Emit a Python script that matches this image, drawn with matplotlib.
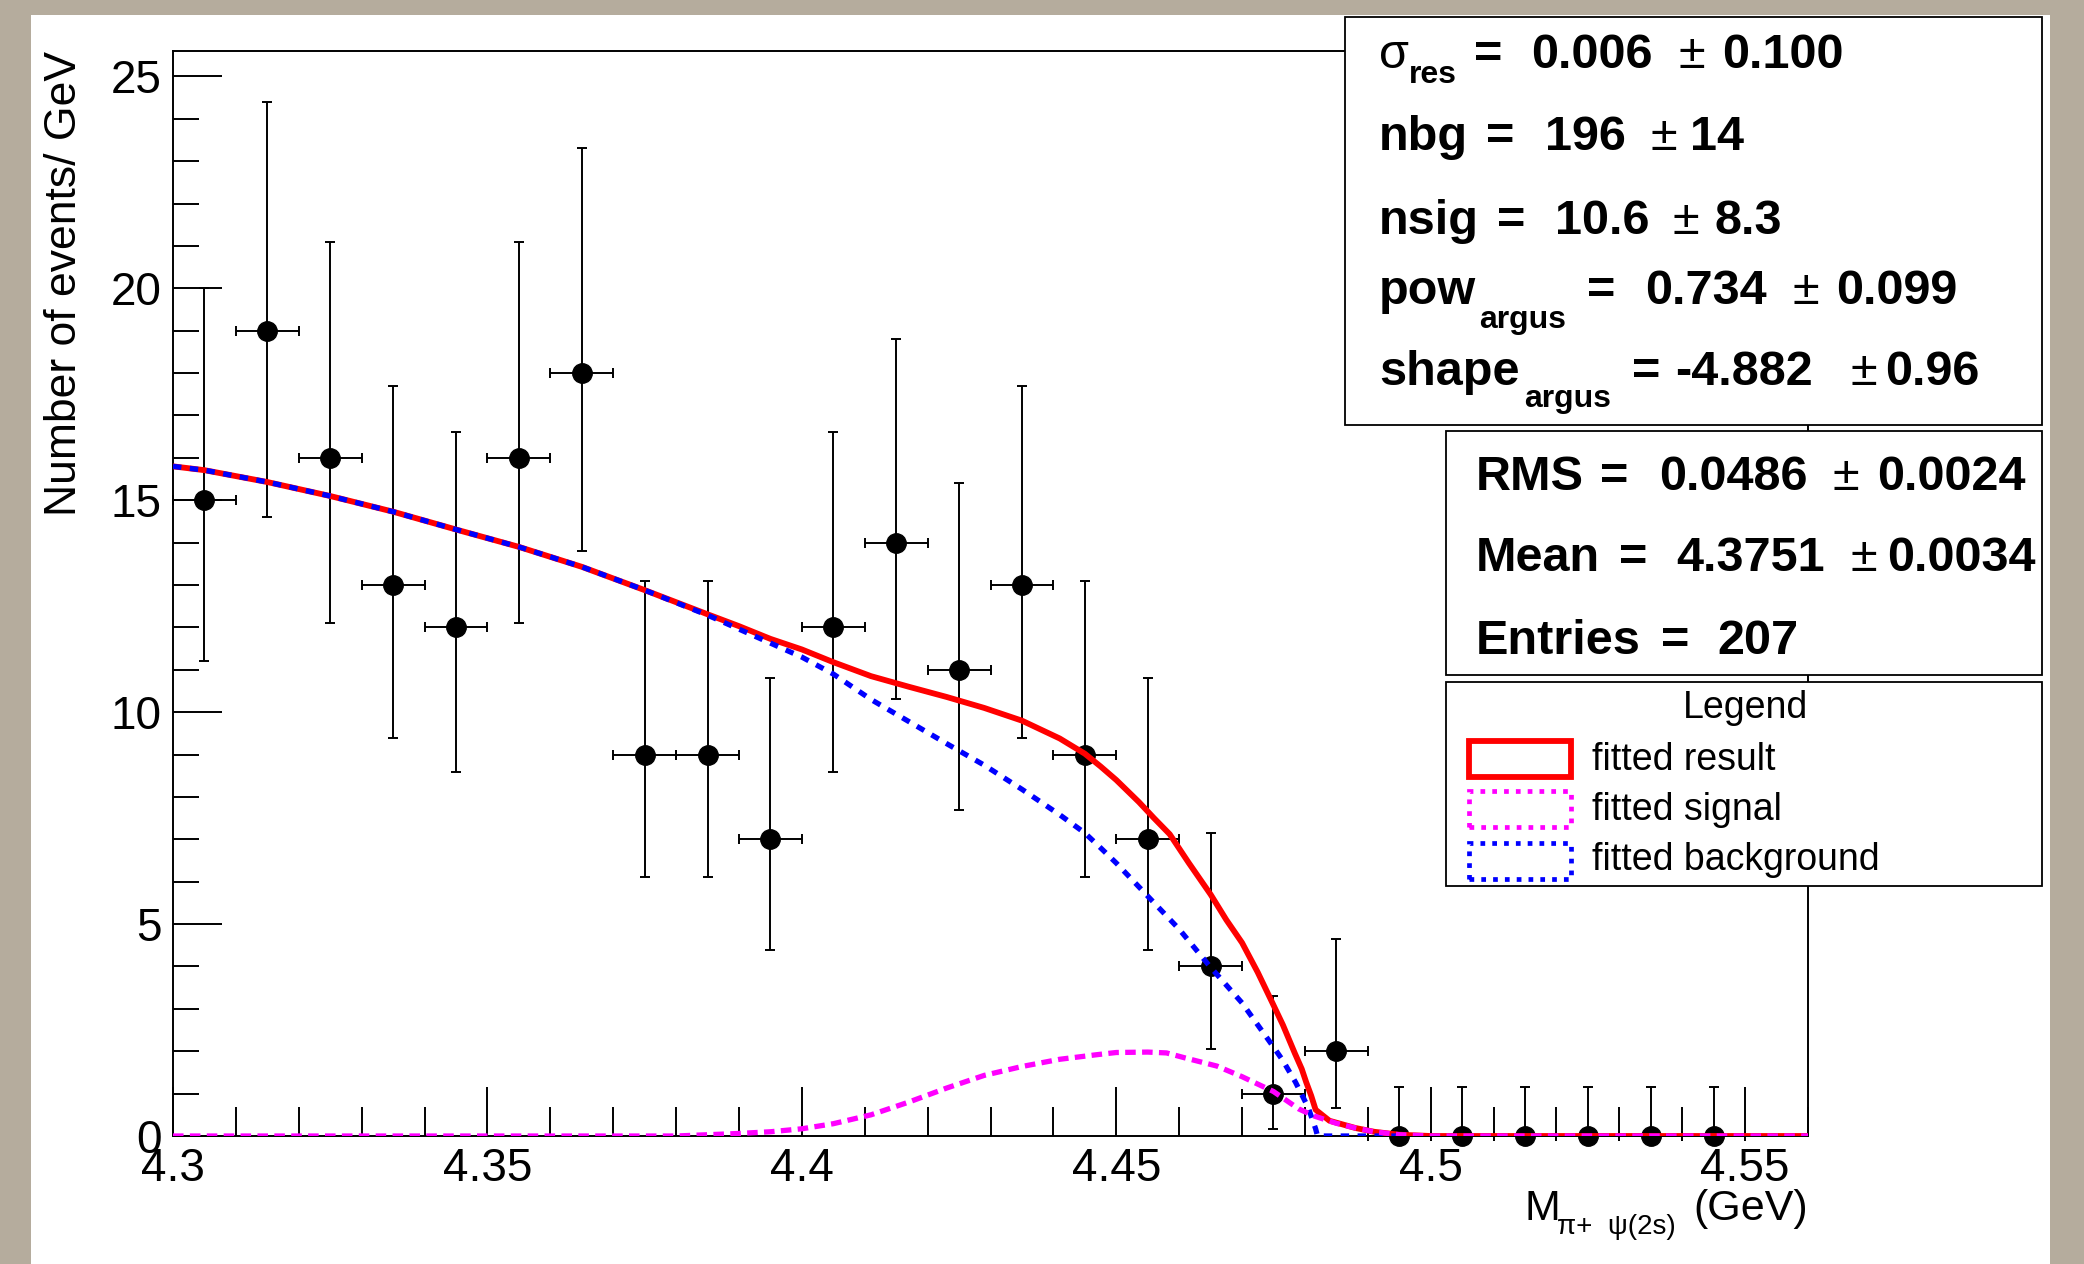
import matplotlib
matplotlib.use("Agg")
import matplotlib.pyplot as plt
from matplotlib.patches import Rectangle
from matplotlib.ticker import MultipleLocator, FuncFormatter

plt.rcParams['font.family'] = ['Liberation Sans', 'DejaVu Sans']

W, H = 2084, 1264

# ---- binned data (bin width 0.01 GeV) ----
bin_centers = [4.305, 4.315, 4.325, 4.335, 4.345, 4.355, 4.365, 4.375, 4.385,
               4.395, 4.405, 4.415, 4.425, 4.435, 4.445, 4.455, 4.465, 4.475,
               4.485, 4.495, 4.505, 4.515, 4.525, 4.535, 4.545]
counts = [15, 19, 16, 13, 12, 16, 18, 9, 9, 7, 12, 14, 11, 13, 9, 7, 4, 1, 2,
          0, 0, 0, 0, 0, 0]
err_low = [3.8, 4.4, 3.9, 3.6, 3.4, 3.9, 4.2, 2.9, 2.9, 2.6, 3.4, 3.7, 3.3,
           3.6, 2.9, 2.6, 1.95, 0.83, 1.35, 0, 0, 0, 0, 0, 0]
err_high = [5.0, 5.4, 5.1, 4.7, 4.6, 5.1, 5.3, 4.1, 4.1, 3.8, 4.6, 4.8, 4.4,
            4.7, 4.1, 3.8, 3.15, 2.3, 2.64, 1.15, 1.15, 1.15, 1.15, 1.15, 1.15]
half_bin = 0.005

# ---- fitted curves ----
bkg_x = [4.300, 4.305, 4.315, 4.325, 4.335, 4.345, 4.355, 4.365, 4.375, 4.385,
         4.395, 4.400, 4.405, 4.411, 4.417, 4.423, 4.429, 4.435, 4.441, 4.445,
         4.4475, 4.450, 4.4525, 4.455, 4.4575, 4.460, 4.4625, 4.465, 4.4675,
         4.470, 4.4725, 4.475, 4.4765, 4.4785, 4.4805, 4.4817, 4.482, 4.495]
bkg_y = [15.80, 15.71, 15.43, 15.10, 14.73, 14.31, 13.90, 13.43, 12.88, 12.29,
         11.63, 11.30, 10.90, 10.30, 9.78, 9.26, 8.75, 8.18, 7.58, 7.15,
         6.80, 6.44, 6.05, 5.66, 5.27, 4.88, 4.43, 3.98, 3.56,
         3.14, 2.62, 2.10, 1.78, 1.27, 0.68, 0.17, 0.0, 0.0]

sig_x = [4.300, 4.380, 4.385, 4.390, 4.395, 4.400, 4.405, 4.411, 4.417, 4.423,
         4.429, 4.435, 4.441, 4.447, 4.450, 4.455, 4.458, 4.461, 4.466, 4.470,
         4.475, 4.479, 4.4815, 4.485, 4.488, 4.491, 4.495, 4.500, 4.560]
sig_y = [0.0, 0.0, 0.03, 0.06, 0.10, 0.17, 0.29, 0.50, 0.80, 1.13,
         1.43, 1.64, 1.81, 1.92, 1.97, 1.98, 1.96, 1.84, 1.65, 1.40,
         1.05, 0.64, 0.47, 0.30, 0.19, 0.10, 0.03, 0.0, 0.0]

tot_x = [4.300, 4.305, 4.315, 4.325, 4.335, 4.345, 4.355, 4.365, 4.375, 4.385,
         4.390, 4.395, 4.400, 4.405, 4.411, 4.417, 4.423, 4.429, 4.435, 4.441,
         4.445, 4.4475, 4.450, 4.4536, 4.456, 4.4585, 4.4615, 4.465, 4.4675,
         4.470, 4.4725, 4.4748, 4.4765, 4.4784, 4.4795, 4.4802, 4.481,
         4.4817, 4.4839, 4.488, 4.491, 4.495, 4.500, 4.560]
tot_y = [15.80, 15.71, 15.43, 15.10, 14.73, 14.31, 13.90, 13.43, 12.88, 12.31,
         12.03, 11.73, 11.48, 11.18, 10.85, 10.60, 10.36, 10.10, 9.80, 9.38,
         9.02, 8.72, 8.40, 7.88, 7.50, 7.12, 6.45, 5.70, 5.10,
         4.56, 3.86, 3.15, 2.62, 1.95, 1.58, 1.27, 0.95,
         0.62, 0.36, 0.19, 0.10, 0.03, 0.0, 0.0]

# ---- boxes text ----
fit_labels = ["σ", "nbg", "nsig", "pow", "shape"]
fit_subs = ["res", "", "", "argus", "argus"]
fit_values = ["0.006", "196", "10.6", "0.734", "-4.882"]
fit_errors = ["0.100", "14", "8.3", "0.099", "0.96"]

stat_labels = ["RMS", "Mean", "Entries"]
stat_values = ["0.0486", "4.3751", "207"]
stat_errors = ["0.0024", "0.0034", ""]

legend_labels = ["fitted result", "fitted signal", "fitted background"]
legend_colors = ["#ff0000", "#ff00ff", "#0000ff"]


def fx(x):
    return x / W


def fy(y):
    return 1 - y / H


fig = plt.figure(figsize=(W / 100, H / 100), dpi=100)
fig.patch.set_facecolor("#b5ac9d")
fig.add_artist(Rectangle((fx(31), 0), fx(2050) - fx(31), fy(15),
                         transform=fig.transFigure, facecolor="white",
                         edgecolor="none", zorder=-10))

ax_l, ax_r, ax_t, ax_b = 173, 1808, 51, 1136
ax = fig.add_axes([fx(ax_l), fy(ax_b), fx(ax_r - ax_l), (ax_b - ax_t) / H])
ax.set_facecolor("white")

ax.errorbar(bin_centers, counts, yerr=[err_low, err_high], xerr=half_bin,
            fmt="o", color="black", ms=14, elinewidth=1.4, capsize=3.5,
            capthick=1.4, zorder=2, clip_on=False)
ax.plot(tot_x, tot_y, color="#ff0000", lw=4.2, zorder=3)
ax.plot(bkg_x, bkg_y, color="#0000ff", lw=3.8, dashes=(1.6, 1.6), zorder=4)
ax.plot(sig_x, sig_y, color="#ff00ff", lw=3.8, dashes=(2.0, 1.2), zorder=5)

ax.set_xlim(4.3, 4.56)
ax.set_ylim(0, 25.6)
ax.xaxis.set_major_locator(MultipleLocator(0.05))
ax.xaxis.set_minor_locator(MultipleLocator(0.01))
ax.yaxis.set_major_locator(MultipleLocator(5))
ax.yaxis.set_minor_locator(MultipleLocator(1))
ax.xaxis.set_major_formatter(FuncFormatter(lambda v, p: f"{v:g}"))
ax.yaxis.set_major_formatter(FuncFormatter(lambda v, p: f"{v:g}"))
ax.tick_params(which="both", direction="in", top=False, right=False,
               width=1.4, labelsize=33)
ax.tick_params(axis="x", which="major", length=35, pad=8)
ax.tick_params(axis="x", which="minor", length=21)
ax.tick_params(axis="y", which="major", length=35, pad=8)
ax.tick_params(axis="y", which="minor", length=19)
for s in ax.spines.values():
    s.set_linewidth(1.4)

ax.set_ylabel("Number of events/ GeV", fontsize=32, loc="top")
ax.yaxis.set_label_coords(-0.054, 1.0)

# x axis title, ROOT style at the right end
fig.text(fx(1524), fy(1220), "M", fontsize=31, va="baseline", ha="left")
fig.text(fx(1557), fy(1234), "π+  ψ(2s)", fontsize=20, va="baseline", ha="left")
fig.text(fx(1693), fy(1220), "(GeV)", fontsize=31, va="baseline", ha="left")


def box(x0, y0, x1, y1):
    fig.add_artist(Rectangle((fx(x0), fy(y1)), fx(x1 - x0), (y1 - y0) / H,
                             transform=fig.transFigure, facecolor="white",
                             edgecolor="black", lw=1.3, zorder=5))


def put(x, y, s, size=35, weight="bold"):
    fig.text(fx(x), fy(y), s, fontsize=size, fontweight=weight,
             va="baseline", ha="left", zorder=6)


# fit parameter box
box(1345, 17, 2042, 425)
fit_base = [68, 150, 234, 304, 385]
fit_sub_pos = [(1409, 83), None, None, (1479, 328), (1524, 407)]
fit_eq_x = [1474, 1486, 1497, 1587, 1632]
fit_val_x = [1531, 1545, 1555, 1645, 1675]
fit_pm_x = [1678, 1650, 1672, 1792, 1850]
fit_err_x = [1722, 1690, 1715, 1836, 1885]
for i in range(len(fit_labels)):
    put(1379, fit_base[i], fit_labels[i],
        weight="normal" if fit_labels[i] == "σ" else "bold")
    if fit_sub_pos[i]:
        put(fit_sub_pos[i][0], fit_sub_pos[i][1], fit_subs[i], size=23)
    put(fit_eq_x[i], fit_base[i], "=")
    put(fit_val_x[i], fit_base[i], fit_values[i])
    put(fit_pm_x[i], fit_base[i], "±", weight="normal")
    put(fit_err_x[i], fit_base[i], fit_errors[i])

# statistics box
box(1446, 431, 2042, 675)
stat_base = [490, 571, 654]
stat_eq_x = [1600, 1619, 1661]
stat_val_x = [1659, 1676, 1717]
stat_pm_x = [1832, 1850, None]
stat_err_x = [1877, 1887, None]
for i in range(len(stat_labels)):
    put(1476, stat_base[i], stat_labels[i])
    put(stat_eq_x[i], stat_base[i], "=")
    put(stat_val_x[i], stat_base[i], stat_values[i])
    if stat_errors[i]:
        put(stat_pm_x[i], stat_base[i], "±", weight="normal")
        put(stat_err_x[i], stat_base[i], stat_errors[i])

# legend box
box(1446, 682, 2042, 886)
fig.text(fx(1746), fy(718), "Legend", fontsize=27, ha="center",
         va="baseline", zorder=6)
leg_sym_top = [741, 791, 843]
leg_base = [770, 820, 870]
leg_styles = [dict(lw=4.2, ls="-"), dict(lw=3.4, ls=(0, (1.0, 1.5))),
              dict(lw=3.4, ls=(0, (1.0, 1.5)))]
for i in range(len(legend_labels)):
    fig.add_artist(Rectangle((fx(1469), fy(leg_sym_top[i] + 36)), fx(102),
                             36 / H, transform=fig.transFigure,
                             facecolor="none", edgecolor=legend_colors[i],
                             zorder=7, **leg_styles[i]))
    put(1592, leg_base[i], legend_labels[i], size=27, weight="normal")

fig.savefig("out.png", dpi=100, facecolor=fig.get_facecolor())
